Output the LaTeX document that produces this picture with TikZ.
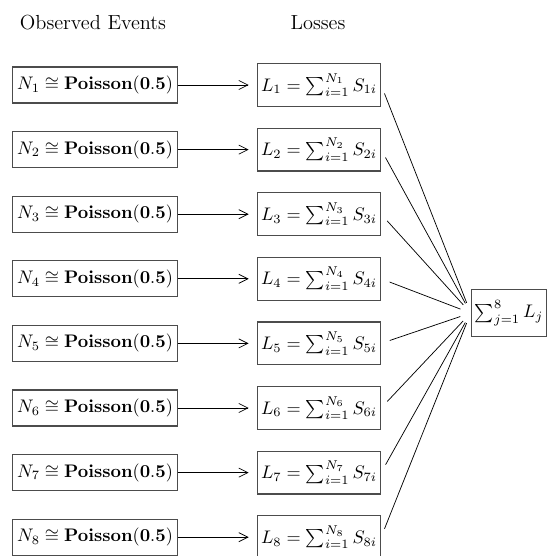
\documentclass[tikz,border=0pt]{standalone}
\usetikzlibrary{arrows.meta}
\begin{document}
\begin{tikzpicture}[x=0.55pt,y=-0.55pt,
  boxline/.style={draw=black!70, line width=0.6pt},
  evbox/.style={boxline, inner sep=2.5pt, minimum height=19.8pt},
  lossbox/.style={boxline, inner sep=2pt, minimum height=23.5pt},
  sumbox/.style={boxline, inner sep=2pt, minimum height=26pt},
  head/.style={font=\fontsize{11.2}{13}\selectfont},
  arr/.style={-{Straight Barb[length=5pt,width=5pt]}, shorten >=4.5pt},
  link/.style={shorten <=5pt, shorten >=6pt}]
\useasboundingbox (0,0) rectangle (552,556);
\node[head] (h1) at (93,23) {Observed Events};
\node[head] (h2) at (318,23) {Losses};
\node[sumbox] (S) at (509,313) {$\sum_{j=1}^{8} L_j$};
\foreach \i in {1,...,8}{
  \pgfmathsetmacro{\yy}{85+(\i-1)*64.6}
  \node[evbox] (N\i) at (95,\yy) {$N_{\i} \cong \mathbf{Poisson(0.5)}$};
  \node[lossbox] (L\i) at (319,\yy) {$L_{\i} = \sum_{i=1}^{N_{\i}} S_{\i i}$};
  \draw[arr] (N\i) -- (L\i);
  \draw[link] (L\i.east) -- (S.west);
}
\end{tikzpicture}
\end{document}
